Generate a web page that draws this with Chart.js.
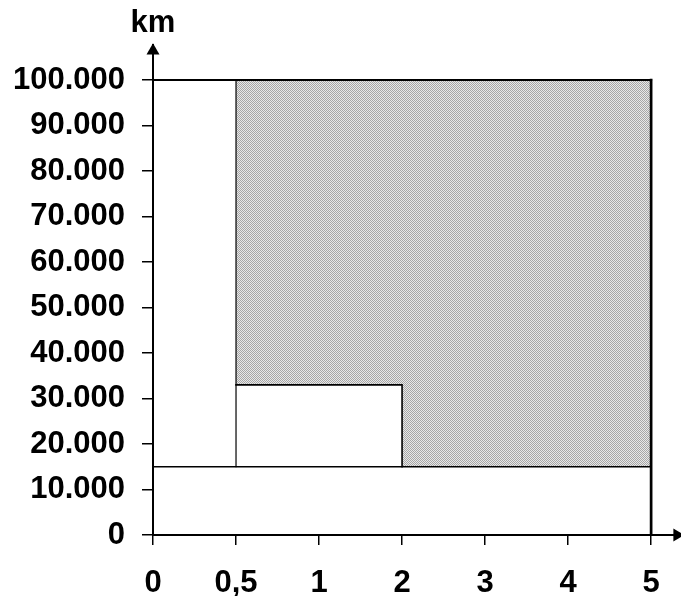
<!DOCTYPE html>
<html>
<head>
<meta charset="utf-8">
<script src="https://cdn.jsdelivr.net/npm/chart.js@4/dist/chart.umd.min.js"></script>
<style>
  html, body { margin: 0; padding: 0; background: #fff; }
  canvas { display: block; }
</style>
</head>
<body>
<canvas id="c" width="681" height="596"></canvas>
<script>
// ---- data ----
const xLabels = ['0', '0,5', '1', '2', '3', '4', '5'];
const yTickValues = [0, 10000, 20000, 30000, 40000, 50000, 60000, 70000, 80000, 90000, 100000];
const yTickLabels = ['0', '10.000', '20.000', '30.000', '40.000', '50.000', '60.000', '70.000', '80.000', '90.000', '100.000'];
const yUnit = 'km';

const baseBandTop = 15000;   // white band 0..5 up to 15.000 km
const stripEnd = '0,5';      // white strip 0..0,5
const boxEnd = '2';          // white box 0,5..2
const boxTop = 33000;        // white box top
const ceiling = 100000;      // top of the figure
const xEnd = '5';

const xi = l => xLabels.indexOf(l);
const pt = (l, y) => ({ x: xi(l), y: y });

const shadedArea = [pt(stripEnd, boxTop), pt(stripEnd, ceiling), pt(xEnd, ceiling), pt(xEnd, baseBandTop),
                    pt(boxEnd, baseBandTop), pt(boxEnd, boxTop), pt(stripEnd, boxTop)];
const topEdge = [pt('0', ceiling), pt(xEnd, ceiling)];
const rightEdge = [pt(xEnd, ceiling), pt(xEnd, 0)];
const bandEdge = [pt('0', baseBandTop), pt(xEnd, baseBandTop)];
const stripEdge = [pt(stripEnd, baseBandTop), pt(stripEnd, ceiling)];
const boxEdge = [pt(stripEnd, boxTop), pt(boxEnd, boxTop), pt(boxEnd, baseBandTop)];

const X_MAX = 6.36, Y_MAX = 107700;

const canvas = document.getElementById('c');
const ctx = canvas.getContext('2d');

// dithered grey fill
const pc = document.createElement('canvas');
pc.width = 2; pc.height = 2;
const p = pc.getContext('2d');
p.fillStyle = '#e8e8e8'; p.fillRect(0, 0, 2, 2);
p.fillStyle = '#a6a6a6'; p.fillRect(0, 0, 1, 1); p.fillRect(1, 1, 1, 1);
const pattern = ctx.createPattern(pc, 'repeat');

const FONT = { family: '"Liberation Sans", Arial, sans-serif', size: 31, weight: 'bold' };

function lineDs(data, width) {
  return { data, showLine: true, borderColor: '#000', borderWidth: width, pointRadius: 0,
           fill: false, tension: 0, borderCapStyle: 'square', borderJoinStyle: 'miter' };
}

const unitPlugin = {
  id: 'unitTitle',
  afterDraw(chart) {
    const c = chart.ctx;
    c.save();
    c.font = 'bold 31px "Liberation Sans", Arial, sans-serif';
    c.fillStyle = '#000';
    c.textAlign = 'center';
    c.textBaseline = 'alphabetic';
    c.fillText(yUnit, chart.scales.x.getPixelForValue(0), 32);
    c.restore();
  }
};

new Chart(ctx, {
  type: 'scatter',
  data: {
    datasets: [
      { data: [{ x: 0, y: 106450 }], pointStyle: 'triangle', pointRadius: 7.5, rotation: 0,
        backgroundColor: '#000', borderWidth: 0, clip: false },
      { data: [{ x: 6.313, y: 0 }], pointStyle: 'triangle', pointRadius: 7.5, rotation: 90,
        backgroundColor: '#000', borderWidth: 0, clip: false },
      lineDs(rightEdge, 2.7),
      lineDs(topEdge, 2),
      lineDs(boxEdge, 1.6),
      lineDs(bandEdge, 1.6),
      lineDs(stripEdge, 1.2),
      { data: shadedArea, showLine: true, borderWidth: 0, pointRadius: 0, tension: 0,
        backgroundColor: pattern, borderColor: 'rgba(0,0,0,0)', fill: 'shape' }
    ]
  },
  options: {
    responsive: false,
    animation: false,
    layout: { autoPadding: false, padding: { top: 45, right: 0, left: 0, bottom: 0 } },
    plugins: { legend: { display: false }, tooltip: { enabled: false }, title: { display: false } },
    scales: {
      x: {
        type: 'linear', min: 0, max: X_MAX,
        afterBuildTicks: s => { s.ticks = xLabels.map((_, i) => ({ value: i })); },
        afterFit: s => { s.height = 61; },
        ticks: { callback: v => xLabels[Math.round(v)], font: FONT, color: '#000', padding: 20,
                 maxRotation: 0, autoSkip: false },
        grid: { drawOnChartArea: false, drawTicks: true, tickLength: 10, color: '#000', lineWidth: 1.5 },
        border: { display: true, color: '#000', width: 2 }
      },
      y: {
        type: 'linear', min: 0, max: Y_MAX,
        afterBuildTicks: s => { s.ticks = yTickValues.map(v => ({ value: v })); },
        afterFit: s => { s.width = 153; },
        ticks: { callback: (v, i) => yTickLabels[i], font: FONT, color: '#000', padding: 17, autoSkip: false },
        grid: { drawOnChartArea: false, drawTicks: true, tickLength: 11, color: '#000', lineWidth: 1.5 },
        border: { display: true, color: '#000', width: 2 }
      }
    }
  },
  plugins: [unitPlugin]
});
</script>
</body>
</html>
